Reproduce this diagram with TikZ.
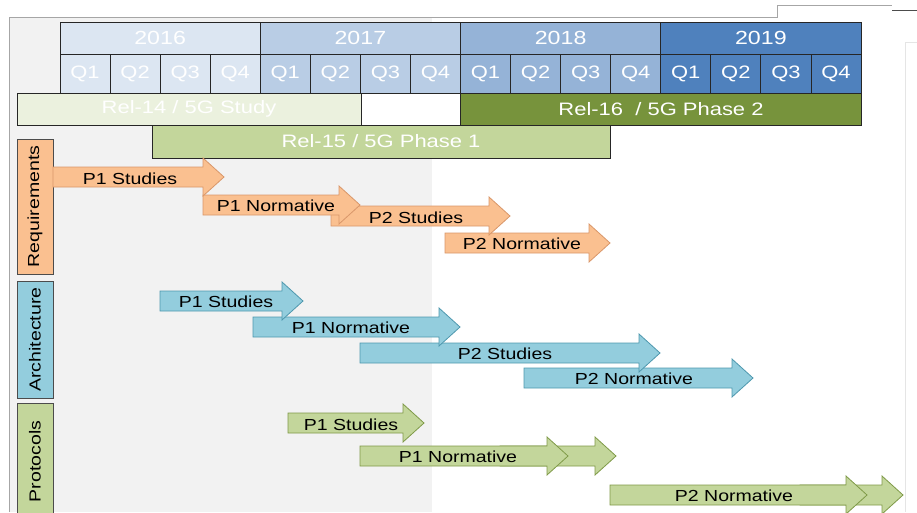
\documentclass[tikz,border=0pt]{standalone}
\usepackage{fontspec}
\setmainfont{Liberation Sans}[FakeStretch=1.22]
\usepackage{tikz}
\usetikzlibrary{positioning}
\definecolor{yrA}{HTML}{DCE6F2}
\definecolor{yrB}{HTML}{B9CDE5}
\definecolor{yrC}{HTML}{95B3D7}
\definecolor{yrD}{HTML}{4F81BD}
\definecolor{relA}{HTML}{EBF1DE}
\definecolor{relB}{HTML}{C3D69B}
\definecolor{relC}{HTML}{77933C}
\definecolor{peach}{HTML}{FAC090}
\definecolor{peachdk}{HTML}{D9976A}
\definecolor{sky}{HTML}{93CDDD}
\definecolor{skydk}{HTML}{4E98AE}
\definecolor{leaf}{HTML}{C3D69B}
\definecolor{leafdk}{HTML}{7F9A48}
\definecolor{paper}{HTML}{F2F2F2}
\tikzstyle{ndyear} = [draw=black!85, line width=0.8pt, shape=rectangle, minimum width=200.25pt, minimum height=32pt, inner sep=0pt, outer sep=0pt, text=white, font=\fontsize{19}{22}\selectfont]
\tikzstyle{ndqtr} = [draw=black!85, line width=0.8pt, shape=rectangle, minimum width=50.0625pt, minimum height=39pt, inner sep=0pt, outer sep=0pt, text=white, font=\fontsize{18}{21}\selectfont]
\tikzstyle{ndrel} = [draw=black!85, line width=0.8pt, shape=rectangle, minimum height=32pt, inner sep=0pt, outer sep=0pt, text=white, font=\fontsize{18}{21}\selectfont]
\tikzstyle{ndcat} = [draw=black!70, line width=0.8pt, shape=rectangle, minimum height=36pt, inner sep=0pt, rotate=90, text=black, font=\fontsize{16}{19}\selectfont]
\tikzstyle{ndlab} = [inner sep=0pt, text=black, font=\fontsize{16}{19}\selectfont]
\tikzstyle{arreq} = [fill=peach, draw=peachdk, line width=0.8pt]
\tikzstyle{ararch} = [fill=sky, draw=skydk, line width=0.8pt]
\tikzstyle{arprot} = [fill=leaf, draw=leafdk, line width=0.8pt]
\newcommand{\blkarrow}[4]{\draw[#1] (#2,{#4-10}) -- ({#3-21},{#4-10}) -- ({#3-21},{#4-19}) -- (#3,#4) -- ({#3-21},{#4+19}) -- ({#3-21},{#4+10}) -- (#2,{#4+10}) -- cycle;}
\begin{document}
\begin{tikzpicture}[x=1pt, y=-1pt]
	\useasboundingbox (0,0) rectangle (917,512);
	% backdrop and frame
	\fill[paper] (9,17) rectangle (432,512);
	\fill[white] (361,93) rectangle (460,125);
	\draw[black!35, line width=0.8pt] (9,512) -- (9,17) -- (777,17) -- (777,5) -- (892,5);
	\draw[black!70, line width=0.8pt] (892,10) -- (917,10);
	\draw[black!10, line width=0.8pt] (917,42) -- (905,42) -- (905,512);
	% quarters
	\node[ndqtr, fill=yrA] (q1) at (85.03,73.5) {Q1};
	\node[ndqtr, fill=yrA, right=0pt of q1] (q2) {Q2};
	\node[ndqtr, fill=yrA, right=0pt of q2] (q3) {Q3};
	\node[ndqtr, fill=yrA, right=0pt of q3] (q4) {Q4};
	\node[ndqtr, fill=yrB, right=0pt of q4] (q5) {Q1};
	\node[ndqtr, fill=yrB, right=0pt of q5] (q6) {Q2};
	\node[ndqtr, fill=yrB, right=0pt of q6] (q7) {Q3};
	\node[ndqtr, fill=yrB, right=0pt of q7] (q8) {Q4};
	\node[ndqtr, fill=yrC, right=0pt of q8] (q9) {Q1};
	\node[ndqtr, fill=yrC, right=0pt of q9] (q10) {Q2};
	\node[ndqtr, fill=yrC, right=0pt of q10] (q11) {Q3};
	\node[ndqtr, fill=yrC, right=0pt of q11] (q12) {Q4};
	\node[ndqtr, fill=yrD, right=0pt of q12] (q13) {Q1};
	\node[ndqtr, fill=yrD, right=0pt of q13] (q14) {Q2};
	\node[ndqtr, fill=yrD, right=0pt of q14] (q15) {Q3};
	\node[ndqtr, fill=yrD, right=0pt of q15] (q16) {Q4};
	% years
	\node[ndyear, fill=yrA, anchor=south west] (y2016) at (q1.north west) {2016};
	\node[ndyear, fill=yrB, anchor=south west] (y2017) at (q5.north west) {2017};
	\node[ndyear, fill=yrC, anchor=south west] (y2018) at (q9.north west) {2018};
	\node[ndyear, fill=yrD, anchor=south west] (y2019) at (q13.north west) {2019};
	% releases
	\node[ndrel, fill=relA, minimum width=344pt, anchor=north west] (rel14) at (17,93) {Rel-14 / 5G Study};
	\node[ndrel, fill=relC, minimum width=401pt, anchor=north west] (rel16) at (q9.south west) {Rel-16\ \ / 5G Phase 2};
	\node[ndrel, fill=relB, minimum width=458pt, minimum height=33pt, anchor=north west] (rel15) at (152,125) {Rel-15 / 5G Phase 1};
	% work areas
	\node[ndcat, fill=peach, minimum width=135pt] (req) at (35,206.5) {Requirements};
	\node[ndcat, fill=sky, minimum width=117pt] (arc) at (35,339.5) {Architecture};
	\node[ndcat, fill=leaf, minimum width=117pt] (pro) at (35,461.5) {Protocols};
	% requirements
	\blkarrow{arreq}{445}{610}{243}
	\node[ndlab] (reqP2n) at (522,244) {P2 Normative};
	\blkarrow{arreq}{331}{510}{216}
	\node[ndlab] (reqP2s) at (416,218) {P2 Studies};
	\blkarrow{arreq}{203}{360}{205}
	\node[ndlab] (reqP1n) at (276,206) {P1 Normative};
	\blkarrow{arreq}{53}{224}{177}
	\node[ndlab] (reqP1s) at (130,178.5) {P1 Studies};
	% architecture
	\blkarrow{ararch}{524}{753}{378}
	\node[ndlab] (arcP2n) at (634,379) {P2 Normative};
	\blkarrow{ararch}{360}{660}{353}
	\node[ndlab] (arcP2s) at (505,354) {P2 Studies};
	\blkarrow{ararch}{253}{460}{327}
	\node[ndlab] (arcP1n) at (351,328) {P1 Normative};
	\blkarrow{ararch}{160}{303}{301}
	\node[ndlab] (arcP1s) at (226,302) {P1 Studies};
	% protocols
	\blkarrow{arprot}{800}{903}{495}
	\blkarrow{arprot}{610}{867}{495}
	\node[ndlab] (proP2n) at (734,496) {P2 Normative};
	\blkarrow{arprot}{500}{616}{456}
	\blkarrow{arprot}{360}{568}{456}
	\node[ndlab] (proP1n) at (458,457) {P1 Normative};
	\blkarrow{arprot}{288}{424}{423}
	\node[ndlab] (proP1s) at (351,424.5) {P1 Studies};
\end{tikzpicture}
\end{document}
